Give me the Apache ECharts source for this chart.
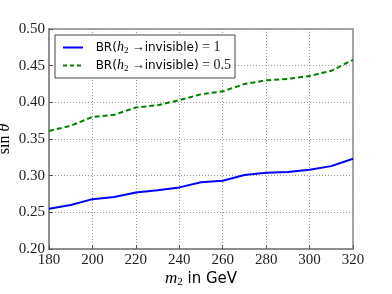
<!DOCTYPE html>
<html><head><meta charset="utf-8">
<script src="https://cdn.jsdelivr.net/npm/echarts@6/dist/echarts.min.js"></script>
<style>html,body{margin:0;padding:0;background:#fff}#c{width:392px;height:294px}</style>
</head><body><div id="c"></div>
<script>
var masses = [180,190,200,210,220,230,240,250,260,270,280,290,300,310,320];
var brOne = [0.255,0.260,0.268,0.271,0.277,0.280,0.284,0.291,0.293,0.301,0.304,0.305,0.308,0.313,0.323];
var brHalf = [0.361,0.368,0.380,0.383,0.393,0.396,0.403,0.411,0.415,0.425,0.430,0.432,0.436,0.443,0.458];
var yTicks = [0.20,0.25,0.30,0.35,0.40,0.45,0.50];
var xTicks = [180,200,220,240,260,280,300,320];
var names = ['BR1','BR05'];
var legendLabels = {BR1:'1', BR05:'0.5'};

var chart = echarts.init(document.getElementById('c'));
var serif = '"Liberation Serif", "DejaVu Serif", serif';
var sans = '"DejaVu Sans", sans-serif';
chart.setOption({
  animation:false,
  grid:{left:49,right:39,top:29,bottom:45,show:true,borderColor:'#888',borderWidth:1.5,
        containLabel:false,outerBoundsMode:'none'},
  legend:{
    data:[
      {name:names[0],icon:'path://M0 0h20v2h-20z'},
      {name:names[1],icon:'path://M0 0h4v2h-4z M7 0h4v2h-4z M14 0h4v2h-4z M20 0h0.01v2h-0.01z'}
    ],
    orient:'vertical', left:55, top:35, itemWidth:20, itemHeight:10, itemGap:3,
    borderColor:'#444', borderWidth:1, backgroundColor:'#fff', padding:[5,4,5,8], borderRadius:0,
    formatter:function(n){ return '{s|  BR(}{i|h}{sub|2}{a| →}{s|invisible)}{m| = '+legendLabels[n]+'}'; },
    textStyle:{rich:{
      s:{fontFamily:sans,fontSize:12,color:'#000',lineHeight:16},
      a:{fontFamily:serif,fontSize:13,color:'#000',lineHeight:16},
      i:{fontFamily:serif,fontStyle:'italic',fontSize:14,color:'#000',lineHeight:16},
      sub:{fontFamily:serif,fontSize:9,color:'#000',padding:[6,0,0,0],lineHeight:16},
      m:{fontFamily:serif,fontSize:14,color:'#222',lineHeight:16}
    }}
  },
  xAxis:{type:'value',min:180,max:320,interval:20,
    axisLine:{show:true,lineStyle:{color:'#888',width:1.5}},
    axisTick:{inside:true,length:4,lineStyle:{color:'#555'}},
    axisLabel:{fontFamily:serif,fontSize:15,color:'#222',margin:4,
      formatter:function(v){return xTicks.indexOf(v)>=0?String(v):'';}},
    splitLine:{show:true,lineStyle:{color:'#999',type:[1,2],width:1}},
    name:'{i|m}{sub|2}{s| in GeV}',nameLocation:'middle',nameGap:21,nameMoveOverlap:false,
    nameTextStyle:{rich:{
      i:{fontFamily:serif,fontStyle:'italic',fontSize:17,color:'#000'},
      sub:{fontFamily:serif,fontSize:11,color:'#000',padding:[7,0,0,0]},
      s:{fontFamily:sans,fontSize:15,color:'#000'}}}
  },
  yAxis:{type:'value',min:0.2,max:0.5,interval:0.05,
    axisLine:{show:true,lineStyle:{color:'#888',width:1.5}},
    axisTick:{inside:true,length:4,lineStyle:{color:'#555'}},
    axisLabel:{fontFamily:serif,fontSize:15,color:'#222',margin:4,
      formatter:function(v){return yTicks[Math.round((v-0.2)/0.05)].toFixed(2);}},
    splitLine:{show:true,lineStyle:{color:'#999',type:[1,2],width:1}},
    name:'{s|sin }{i|θ}',nameLocation:'middle',nameGap:36,nameMoveOverlap:false,
    nameTextStyle:{rich:{
      s:{fontFamily:serif,fontSize:16,color:'#000'},
      i:{fontFamily:serif,fontStyle:'italic',fontSize:16,color:'#000'}}}
  },
  series:[
    {name:'BR1',type:'line',data:masses.map(function(m,i){return [m,brOne[i]];}),
     symbol:'none',lineStyle:{color:'#0000ff',width:2},itemStyle:{color:'#0000ff'}},
    {name:'BR05',type:'line',data:masses.map(function(m,i){return [m,brHalf[i]];}),
     symbol:'none',lineStyle:{color:'#008000',width:2,type:[5,3]},itemStyle:{color:'#008000'}}
  ]
});
</script></body></html>
